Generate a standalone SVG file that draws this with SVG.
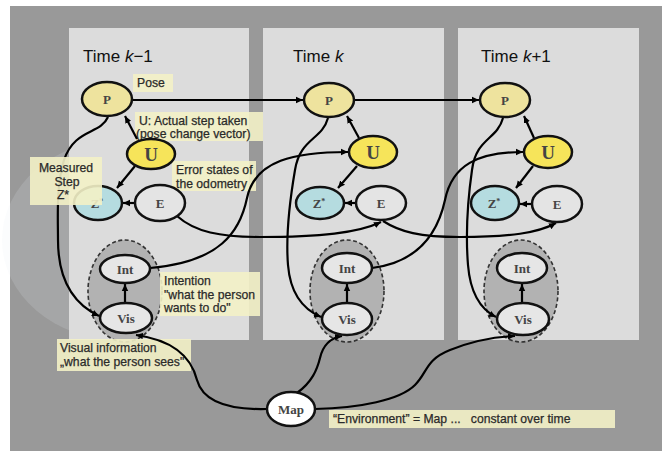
<svg xmlns="http://www.w3.org/2000/svg" width="662" height="451" viewBox="0 0 662 451">
<style>
.panel{fill:#dcdcdc}
.node{stroke:#111;stroke-width:2.5}
.p{fill:#eee39e}
.u{fill:#f6e45a}
.z{fill:#b5dce0}
.e{fill:#e4e4e4}
.iv{fill:#e6e6e6}
.map{fill:#ffffff}
.grp{fill:#b2b2b2;stroke:#333;stroke-width:1.6;stroke-dasharray:4 2.5}
.nt{font-family:"Liberation Serif","Times New Roman",serif;font-weight:bold;text-anchor:middle;fill:#444}
.title{font-family:"Liberation Sans",Arial,sans-serif;font-size:17px;fill:#111}
.lbl{fill:#f3f1c6;opacity:0.9}
.lt{font-family:"Liberation Sans",Arial,sans-serif;font-size:12.2px;fill:#2a2a2a;stroke:#2a2a2a;stroke-width:0.25}
.c{fill:none;stroke:#000;stroke-width:2.2}
.a{marker-end:url(#ah)}
</style>
<defs>
<marker id="ah" markerWidth="8" markerHeight="8" refX="7" refY="4" orient="auto" markerUnits="userSpaceOnUse">
<path d="M0,0.8 L7,4 L0,7.2 Z" fill="#000"/>
</marker>
</defs>
<rect x="0" y="0" width="662" height="451" fill="#ffffff"/>
<rect x="10" y="6" width="652" height="445" fill="#999999"/>
<ellipse cx="120" cy="240" rx="118" ry="100" fill="#e6ebf4" opacity="0.16"/>
<g id="panels">
<rect class="panel" x="69" y="28" width="180" height="312"/>
<rect class="panel" x="263" y="28" width="181" height="312"/>
<rect class="panel" x="458" y="28" width="181" height="312"/>
<text class="title" x="83" y="62">Time <tspan font-style="italic">k</tspan>−1</text>
<text class="title" x="293" y="62">Time <tspan font-style="italic">k</tspan></text>
<text class="title" x="481" y="62">Time <tspan font-style="italic">k</tspan>+1</text>
</g>
<g id="groups">
<ellipse class="grp" cx="125" cy="291" rx="37" ry="51"/>
<ellipse class="grp" cx="347" cy="291" rx="37" ry="51"/>
<ellipse class="grp" cx="521" cy="291" rx="37" ry="51"/>
</g>
<g id="labels">
<rect class="lbl" x="133" y="74" width="40" height="18"/>
<text class="lt" x="137" y="87">Pose</text>
<rect class="lbl" x="135" y="112" width="128" height="29"/>
<text class="lt" x="139" y="125">U: Actual step taken</text>
<text class="lt" x="136" y="138">(pose change vector)</text>
<rect class="lbl" x="172" y="161" width="84" height="30"/>
<text class="lt" x="176" y="174">Error states of</text>
<text class="lt" x="176" y="188">the odometry</text>
<rect class="lbl" x="160" y="272" width="100" height="44"/>
<text class="lt" x="164" y="285">Intention</text>
<text class="lt" x="164" y="299">"what the person</text>
<text class="lt" x="164" y="312">wants to do"</text>
<rect class="lbl" x="57" y="339" width="134" height="32"/>
<text class="lt" x="60" y="352">Visual information</text>
<text class="lt" x="60" y="366">„what the person sees"</text>
<rect class="lbl" x="329" y="410" width="286" height="18"/>
<text class="lt" x="333" y="423">“Environment” = Map ...&#160;&#160;&#160;constant over time</text>
</g>
<g id="connectors">
<path class="c a" d="M133,100 L303,100"/>
<path class="c a" d="M354,100 L479,100"/>
<path class="c a" d="M137,139 L125,116"/>
<path class="c a" d="M359,138 L347,116"/>
<path class="c a" d="M534,138 L524,116"/>
<path class="c a" d="M135,166 L117,188"/>
<path class="c a" d="M357,166 L338,188"/>
<path class="c a" d="M533,166 L516,188"/>
<path class="c a" d="M136,203 L123,203"/>
<path class="c a" d="M357,203 L345,203"/>
<path class="c a" d="M532,204 L520,204"/>
<path class="c a" d="M125,303 L125,284"/>
<path class="c a" d="M347,303 L347,284"/>
<path class="c a" d="M522,303 L522,284"/>
<path class="c a" d="M108,117 C100,135 75,128 64,160 C56,185 58,220 58,240 C58,285 78,306 99,316"/>
<path class="c a" d="M328,118 C322,140 300,138 295,170 C289,205 286,240 288,265 C290,290 300,308 321,317"/>
<path class="c a" d="M503,118 C497,140 476,138 472,170 C467,205 466,240 468,265 C470,290 478,308 496,317"/>
<path class="c a" d="M150,268 C220,262 240,232 247,198 C255,160 295,152 348,152"/>
<path class="c a" d="M372,268 C420,262 438,232 445,200 C452,165 478,152 523,152"/>
<path class="c a" d="M177,216 C195,232 220,237 260,237 C320,237 358,233 381,222"/>
<path class="c a" d="M383,221 C400,232 420,237 460,237 C510,237 538,233 556,223"/>
<path class="c a" d="M267,409 C230,410 203,402 197,380 C191,356 172,340 136,335"/>
<path class="c a" d="M297,393 C312,382 317,370 320,358 C323,345 330,338 342,336"/>
<path class="c a" d="M315,409 C360,408 400,400 415,385 C428,372 425,360 450,350 C470,342 490,337 515,336"/>
</g>
<g id="n-p1"><ellipse class="node p" cx="107" cy="99" rx="25" ry="17"/><text class="nt" x="107" y="104" font-size="13">P</text></g>
<g id="n-p2"><ellipse class="node p" cx="329" cy="100" rx="25" ry="17"/><text class="nt" x="329" y="105" font-size="13">P</text></g>
<g id="n-p3"><ellipse class="node p" cx="505" cy="100" rx="25" ry="17"/><text class="nt" x="505" y="105" font-size="13">P</text></g>
<g id="n-u1"><ellipse class="node u" cx="151" cy="154" rx="24" ry="15"/><text class="nt" x="151" y="161" font-size="19" fill="#111">U</text></g>
<g id="n-u2"><ellipse class="node u" cx="373" cy="152" rx="24" ry="16"/><text class="nt" x="373" y="159" font-size="19" fill="#111">U</text></g>
<g id="n-u3"><ellipse class="node u" cx="548" cy="152" rx="24" ry="16"/><text class="nt" x="548" y="159" font-size="19" fill="#111">U</text></g>
<g id="n-z1"><ellipse class="node z" cx="98" cy="203" rx="24" ry="17"/><text class="nt" x="97" y="208" font-size="13">Z<tspan dy="-4" font-size="8">*</tspan></text></g>
<g id="n-z2"><ellipse class="node z" cx="320" cy="203" rx="24" ry="16"/><text class="nt" x="319" y="208" font-size="13">Z<tspan dy="-4" font-size="8">*</tspan></text></g>
<g id="n-z3"><ellipse class="node z" cx="495" cy="203" rx="24" ry="17"/><text class="nt" x="494" y="208" font-size="13">Z<tspan dy="-4" font-size="8">*</tspan></text></g>
<g id="n-e1"><ellipse class="node e" cx="160" cy="203" rx="25" ry="18"/><text class="nt" x="160" y="208" font-size="13">E</text></g>
<g id="n-e2"><ellipse class="node e" cx="381" cy="203" rx="25" ry="17"/><text class="nt" x="381" y="208" font-size="13">E</text></g>
<g id="n-e3"><ellipse class="node e" cx="557" cy="204" rx="25" ry="18"/><text class="nt" x="557" y="209" font-size="13">E</text></g>
<g id="n-int1"><ellipse class="node iv" cx="125" cy="269" rx="25" ry="14"/><text class="nt" x="125" y="274" font-size="13" fill="#333">Int</text></g>
<g id="n-int2"><ellipse class="node iv" cx="347" cy="268" rx="25" ry="15"/><text class="nt" x="347" y="273" font-size="13" fill="#333">Int</text></g>
<g id="n-int3"><ellipse class="node iv" cx="522" cy="268" rx="25" ry="15"/><text class="nt" x="522" y="273" font-size="13" fill="#333">Int</text></g>
<g id="n-vis1"><ellipse class="node iv" cx="126" cy="318" rx="26" ry="15"/><text class="nt" x="126" y="323" font-size="13" fill="#333">Vis</text></g>
<g id="n-vis2"><ellipse class="node iv" cx="347" cy="319" rx="25" ry="16"/><text class="nt" x="347" y="324" font-size="13" fill="#333">Vis</text></g>
<g id="n-vis3"><ellipse class="node iv" cx="523" cy="319" rx="26" ry="16"/><text class="nt" x="523" y="324" font-size="13" fill="#333">Vis</text></g>
<g id="n-map"><ellipse class="node map" cx="291" cy="409" rx="24" ry="17"/><text class="nt" x="291" y="414" font-size="13" fill="#222">Map</text></g>
<g id="label-measured">
<rect class="lbl" x="30" y="157" width="72" height="48" opacity="0.72"/>
<text class="lt" x="66" y="172" text-anchor="middle" font-size="12.5">Measured</text>
<text class="lt" x="67" y="186" text-anchor="middle" font-size="12.5">Step</text>
<text class="lt" x="63" y="199" text-anchor="middle" font-size="12.5">Z*</text>
</g>
</svg>
